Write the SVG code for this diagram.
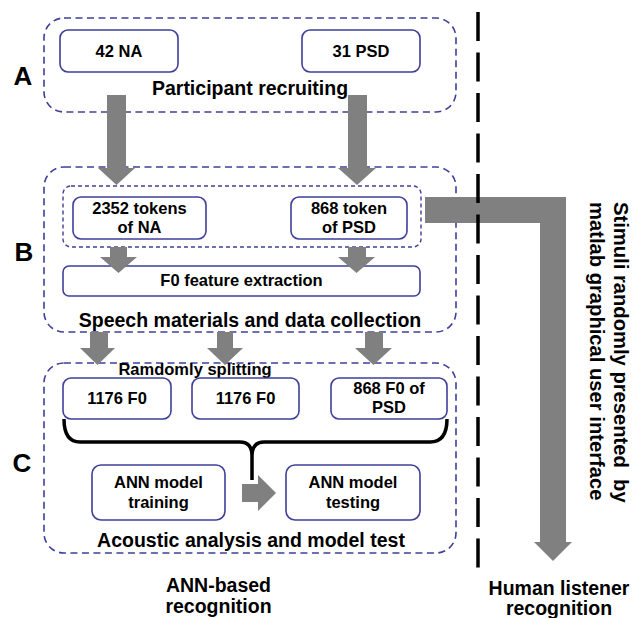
<svg xmlns="http://www.w3.org/2000/svg" width="639" height="618" viewBox="0 0 639 618">
<style>
text{font-family:"Liberation Sans",Arial,sans-serif;font-weight:bold;fill:#000;text-anchor:middle}
.sec{fill:none;stroke:#3f3f9a;stroke-width:1.6;stroke-dasharray:7 4.5}
.inner{fill:none;stroke:#3f3f9a;stroke-width:1.4;stroke-dasharray:4 3}
.node{fill:#fff;stroke:#3f3f9a;stroke-width:1.6}
.lbl{font-size:16.5px}
.big{font-size:19.5px}
.rot{font-size:20.2px;text-anchor:start}
.letter{font-size:26px}
.arr{fill:#808080}
</style>
<rect width="639" height="618" fill="#fff"/>

<g id="sectionA">
<rect class="sec" x="44" y="18" width="412" height="94" rx="20"/>
<text class="letter" x="23" y="85">A</text>
<text class="big" x="250" y="95">Participant recruiting</text>
</g>
<g id="na42">
<rect class="node" x="60" y="30" width="118" height="42" rx="8"/>
<text class="lbl" x="119" y="57">42 NA</text>
</g>
<g id="psd31">
<rect class="node" x="302" y="30" width="118" height="42" rx="8"/>
<text class="lbl" x="361" y="57">31 PSD</text>
</g>

<g id="sectionB">
<rect class="sec" x="44" y="167" width="412" height="165" rx="20"/>
<rect class="inner" x="63" y="186" width="358" height="61" rx="8"/>
<text class="letter" x="24" y="261">B</text>
<text class="big" x="250" y="327">Speech materials and data collection</text>
</g>
<g id="tokensNA">
<rect class="node" x="73" y="197" width="133" height="42" rx="8"/>
<text class="lbl" x="139.5" y="214">2352 tokens</text>
<text class="lbl" x="139.5" y="233">of NA</text>
</g>
<g id="tokensPSD">
<rect class="node" x="291" y="197" width="116" height="42" rx="8"/>
<text class="lbl" x="349" y="214">868 token</text>
<text class="lbl" x="349" y="233">of PSD</text>
</g>
<g id="f0extract">
<rect class="node" x="63" y="266" width="357" height="30" rx="6"/>
<text class="lbl" x="241.5" y="286">F0 feature extraction</text>
</g>

<g id="sectionC">
<rect class="sec" x="44" y="363" width="412" height="190" rx="20"/>
<text class="letter" x="22" y="472">C</text>
<text class="lbl" x="195" y="375">Ramdomly splitting</text>
<text class="big" x="251" y="547">Acoustic analysis and model test</text>
</g>
<g id="f0a">
<rect class="node" x="63" y="378" width="108" height="41" rx="8"/>
<text class="lbl" x="117" y="404">1176 F0</text>
</g>
<g id="f0b">
<rect class="node" x="192" y="378" width="107" height="41" rx="8"/>
<text class="lbl" x="245.5" y="404">1176 F0</text>
</g>
<g id="f0psd">
<rect class="node" x="331" y="378" width="116" height="41" rx="8"/>
<text class="lbl" x="389" y="394">868 F0 of</text>
<text class="lbl" x="389" y="413">PSD</text>
</g>
<g id="annTrain">
<rect class="node" x="92" y="465" width="133" height="55" rx="9"/>
<text class="lbl" x="158.5" y="488">ANN model</text>
<text class="lbl" x="158.5" y="508">training</text>
</g>
<g id="annTest">
<rect class="node" x="286" y="465" width="134" height="55" rx="9"/>
<text class="lbl" x="353" y="488">ANN model</text>
<text class="lbl" x="353" y="508">testing</text>
</g>

<g id="labels">
<text class="big" x="218.5" y="592">ANN-based</text>
<text class="big" x="218.5" y="613">recognition</text>
<text class="big" x="559" y="595">Human listener</text>
<text class="big" x="559" y="615">recognition</text>
<text class="rot" transform="translate(614,202) rotate(90)"><tspan x="0" y="0">Stimuli randomly presented&#160; by</tspan><tspan x="0" y="24">matlab graphical user interface</tspan></text>
</g>

<g id="connectors">
<polygon class="arr" points="107,95 126,95 126,168 135,168 116.5,185 98,168 107,168"/>
<polygon class="arr" points="348,95 367,95 367,168 376,168 357,185 338,168 348,168"/>
<polygon class="arr" points="110,247 127,247 127,257 137,257 118.5,273 100,257 110,257"/>
<polygon class="arr" points="348,247 366,247 366,257 375,257 356.5,273 338,257 348,257"/>
<polygon class="arr" points="90,332 108,332 108,348 115,348 97.5,365 80,348 90,348"/>
<polygon class="arr" points="217,332 233,332 233,348 243,348 225,365 207,348 217,348"/>
<polygon class="arr" points="365,332 383,332 383,348 392,348 373.5,365 355,348 365,348"/>
<polygon class="arr" points="242,484 258,484 258,475 276,493 258,511 258,502 242,502"/>
<polygon class="arr" points="425,197 566,197 566,542 572,542 553,561 534,542 540,542 540,223 425,223"/>
<path d="M64,419 Q64,442 80,442 L240,442 Q252,442 252,456 L252,480 M252,456 Q252,442 264,442 L430,442 Q447,442 447,419" fill="none" stroke="#000" stroke-width="3.5"/>
</g>

<g id="divider">
<line x1="478" y1="12" x2="478" y2="568" stroke="#000" stroke-width="3.5" stroke-dasharray="29 11.5"/>
</g>
</svg>
